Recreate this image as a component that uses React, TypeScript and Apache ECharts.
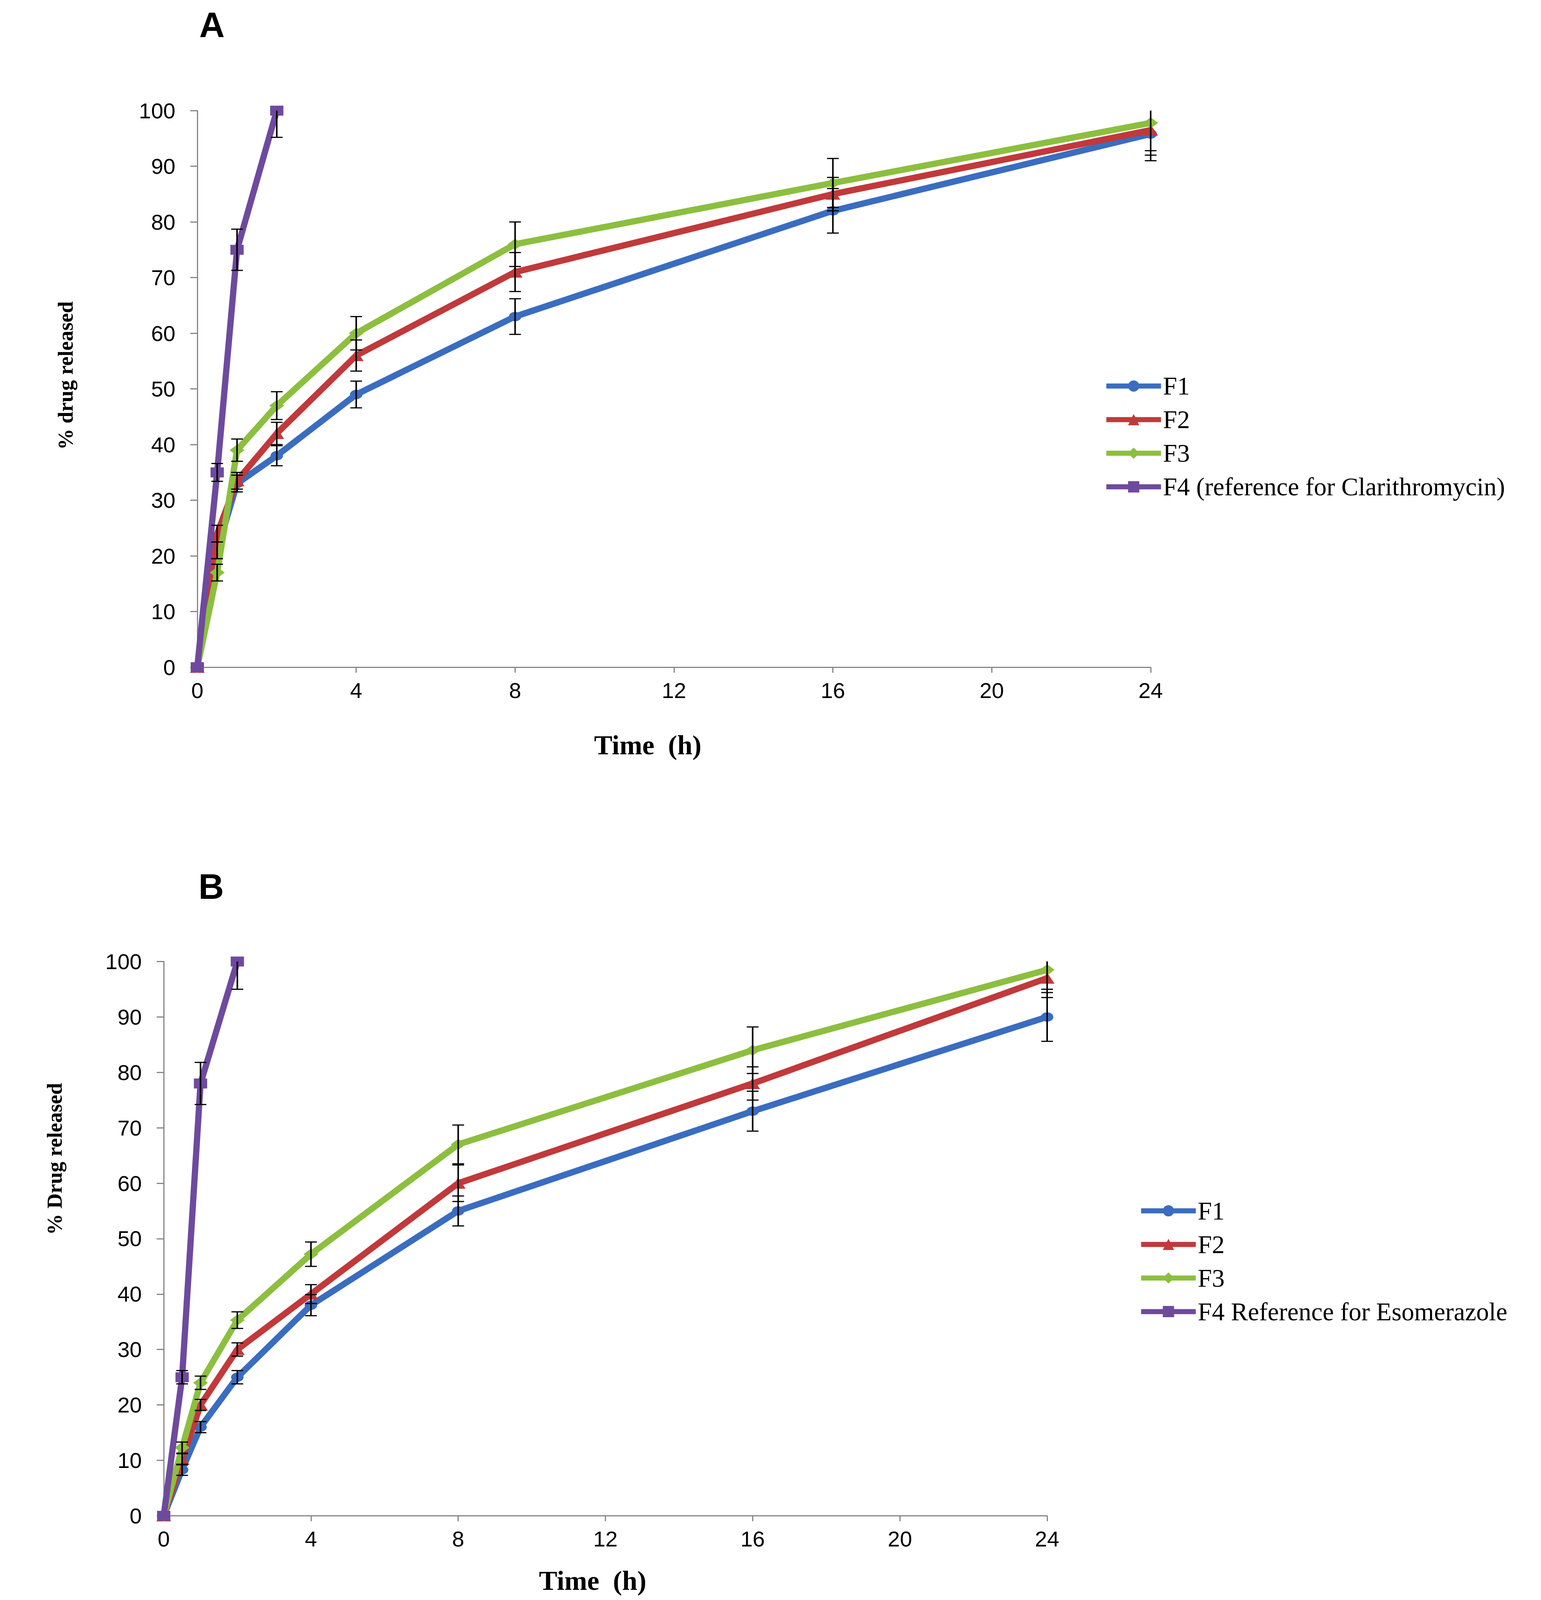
import React, { useEffect, useRef } from "react";
import * as echarts from "echarts";

// ---------- data ----------
const timesH = [0, 0.5, 1, 2, 4, 8, 16, 24];
const timesRef = [0, 0.5, 1, 2];

// Panel A (Clarithromycin)
const aF1 = [0, 21, 33, 38, 49, 63, 82, 95.8];
const aF2 = [0, 24, 33.5, 42, 56, 71, 85, 96.5];
const aF3 = [0, 17, 39, 47, 60, 76, 87, 97.8];
const aF4 = [0, 35, 75, 100];
const aF1Sd = [0, 1.5, 1.5, 1.8, 2.4, 3.2, 4, 4.8];
const aF2Sd = [0, 1.5, 1.5, 2, 2.8, 3.5, 3, 4.5];
const aF3Sd = [0, 1.5, 2, 2.5, 3, 4, 4.4, 5];
const aF4Sd = [0, 1.6, 3.7, 4.8];

// Panel B (Esomeprazole)
const bF1 = [0, 8.3, 16, 25, 38, 55, 73, 90];
const bF2 = [0, 10.2, 20, 30, 40, 60, 78, 97];
const bF3 = [0, 12.3, 24, 35.3, 47.2, 67, 84, 98.5];
const bF4 = [0, 25, 78, 100];
const bF1Sd = [0, 1, 1, 1.2, 1.9, 2.7, 3.6, 4.4];
const bF2Sd = [0, 1, 1, 1.2, 1.7, 3.3, 3, 3.5];
const bF3Sd = [0, 1, 1.2, 1.5, 2.2, 3.5, 4.2, 3.5];
const bF4Sd = [0, 1.2, 3.8, 5];

const namesA = ["F1", "F2", "F3", "F4 (reference for Clarithromycin)"];
const namesB = ["F1", "F2", "F3", "F4 Reference for Esomerazole"];
const colors = ["#3A6DC0", "#C1393B", "#8CBF3F", "#6E4A9E"];
const symbols = ["circle", "triangle", "diamond", "rect"];

const panelTitles = ["A", "B"];
const xTitle = "Time  (h)";
const yTitles = ["% drug released", "% Drug released"];

const pairs = (xs: number[], ys: number[]) => xs.map((x, i) => [x, ys[i]]);
const triples = (xs: number[], ys: number[], es: number[]) =>
  xs.map((x, i) => [x, ys[i], es[i]]);

const Y_MAX = 100;

// The browser viewport is 4096 px tall: the 5453 px tall layout is fitted to it vertically.
const W = 3944;
const H = 4096;
const K = H / 5453;
const sy = (v: number) => v * K;

const symbolSizes = [
  [32, 32 * K],
  [38, 38 * K],
  [38, 38 * K],
  [34, 34 * K],
];

function errorRenderer(params: any, api: any) {
  const x = api.value(0);
  const v = api.value(1);
  const e = api.value(2);
  if (!e) return { type: "group", children: [] };
  const lo = Math.max(v - e, 0);
  const hi = Math.min(v + e, Y_MAX);
  const pLo = api.coord([x, lo]);
  const pHi = api.coord([x, hi]);
  const vStyle = { stroke: "#000", lineWidth: 4 };
  const cStyle = { stroke: "#000", lineWidth: 3 };
  const half = 15;
  const children: any[] = [
    { type: "line", shape: { x1: pLo[0], y1: pLo[1], x2: pHi[0], y2: pHi[1] }, style: vStyle },
  ];
  if (v - e >= 0)
    children.push({ type: "line", shape: { x1: pLo[0] - half, y1: pLo[1], x2: pLo[0] + half, y2: pLo[1] }, style: cStyle });
  if (v + e <= Y_MAX)
    children.push({ type: "line", shape: { x1: pHi[0] - half, y1: pHi[1], x2: pHi[0] + half, y2: pHi[1] }, style: cStyle });
  return { type: "group", children };
}

export default function App() {
  const ref = useRef<HTMLDivElement>(null);

  useEffect(() => {
    document.body.style.margin = "0";
    if (!ref.current) return;
    const chart = echarts.init(ref.current, undefined, { renderer: "svg" });

    const axisColor = "#868686";
    const tickFont = { fontFamily: "Liberation Sans", fontSize: 56, color: "#000" };
    const nameFont = { fontFamily: "Liberation Serif", fontWeight: "bold" as const, color: "#000" };

    const gridA = { left: 505, top: sy(377), width: 2945 - 505, height: sy(2274) - sy(377) };
    const gridB = { left: 419, top: sy(3277), width: 2680 - 419, height: sy(5166) - sy(3277) };

    const makeX = (gridIndex: number, gap: number, padRight: number) => ({
      type: "value",
      gridIndex,
      min: 0,
      max: 24,
      interval: 4,
      name: xTitle,
      nameLocation: "middle",
      nameGap: gap,
      nameTextStyle: { ...nameFont, fontSize: 70, lineHeight: 70, padding: [0, padRight, 0, 0] },
      axisLine: { show: true, onZero: false, lineStyle: { color: axisColor, width: 3 } },
      axisTick: { show: true, inside: false, length: 14, lineStyle: { color: axisColor, width: 3 } },
      axisLabel: { ...tickFont, margin: 31 },
      splitLine: { show: false },
    });
    const makeY = (gridIndex: number, name: string, gap: number, padLeft: number) => ({
      type: "value",
      gridIndex,
      min: 0,
      max: 100,
      interval: 10,
      name,
      nameLocation: "middle",
      nameRotate: 90,
      nameGap: gap,
      nameTextStyle: { ...nameFont, fontSize: 54, lineHeight: 54, padding: [0, 0, 0, padLeft] },
      axisLine: { show: true, lineStyle: { color: axisColor, width: 3 } },
      axisTick: { show: true, inside: false, length: 18, lineStyle: { color: axisColor, width: 3 } },
      axisLabel: { ...tickFont, margin: 56 },
      splitLine: { show: false },
    });

    const lineSeries = (
      gridIdx: number,
      idx: number,
      name: string,
      xs: number[],
      ys: number[]
    ) => ({
      type: "line",
      name,
      xAxisIndex: gridIdx,
      yAxisIndex: gridIdx,
      data: pairs(xs, ys),
      symbol: symbols[idx],
      symbolSize: symbolSizes[idx],
      showSymbol: true,
      lineStyle: { color: colors[idx], width: 16 },
      itemStyle: { color: colors[idx] },
      z: 2 + idx,
      silent: true,
    });
    const errSeries = (gridIdx: number, name: string, xs: number[], ys: number[], es: number[]) => ({
      type: "custom",
      name,
      xAxisIndex: gridIdx,
      yAxisIndex: gridIdx,
      data: triples(xs, ys, es),
      encode: { x: 0, y: 1 },
      renderItem: errorRenderer,
      z: 10,
      silent: true,
    });

    const legendCommon = {
      orient: "vertical",
      itemWidth: 140,
      itemHeight: 36,
      itemGap: 21,
      lineStyle: { width: 13 },
      textStyle: { fontFamily: "Liberation Serif", fontSize: 65, color: "#000", lineHeight: 65 },
      selectedMode: false,
    };

    const titleStyle = { fontFamily: "Liberation Sans", fontWeight: "bold", fontSize: 90, color: "#000" };

    chart.setOption({
      animation: false,
      backgroundColor: "#ffffff",
      title: [
        { text: panelTitles[0], left: 505, top: sy(79) - 45, textStyle: titleStyle },
        { text: panelTitles[1], left: 503, top: sy(3015) - 45, textStyle: titleStyle },
      ],
      grid: [
        { ...gridA, containLabel: false },
        { ...gridB, containLabel: false },
      ],
      xAxis: [
        makeX(0, sy(2540) - sy(2274) - 35, 134),
        makeX(1, sy(5387) - sy(5166) - 35, 65),
      ],
      yAxis: [
        makeY(0, yTitles[0], 310, 2 * ((sy(377) + sy(2274)) / 2 - sy(1280))),
        makeY(1, yTitles[1], 252, 2 * ((sy(3277) + sy(5166)) / 2 - sy(3950))),
      ],
      legend: [
        { ...legendCommon, left: 2820, top: sy(1309) - 32.5, data: namesA },
        { ...legendCommon, left: 2909, top: sy(4120) - 32.5, data: namesB },
      ],
      series: [
        lineSeries(0, 0, namesA[0], timesH, aF1),
        lineSeries(0, 1, namesA[1], timesH, aF2),
        lineSeries(0, 2, namesA[2], timesH, aF3),
        lineSeries(0, 3, namesA[3], timesRef, aF4),
        errSeries(0, "A F1 SD", timesH, aF1, aF1Sd),
        errSeries(0, "A F2 SD", timesH, aF2, aF2Sd),
        errSeries(0, "A F3 SD", timesH, aF3, aF3Sd),
        errSeries(0, "A F4 SD", timesRef, aF4, aF4Sd),
        lineSeries(1, 0, namesB[0], timesH, bF1),
        lineSeries(1, 1, namesB[1], timesH, bF2),
        lineSeries(1, 2, namesB[2], timesH, bF3),
        lineSeries(1, 3, namesB[3], timesRef, bF4),
        errSeries(1, "B F1 SD", timesH, bF1, bF1Sd),
        errSeries(1, "B F2 SD", timesH, bF2, bF2Sd),
        errSeries(1, "B F3 SD", timesH, bF3, bF3Sd),
        errSeries(1, "B F4 SD", timesRef, bF4, bF4Sd),
      ],
    });

    return () => chart.dispose();
  }, []);

  return <div ref={ref} style={{ display: "block", width: W, height: H, background: "#fff" }} />;
}
